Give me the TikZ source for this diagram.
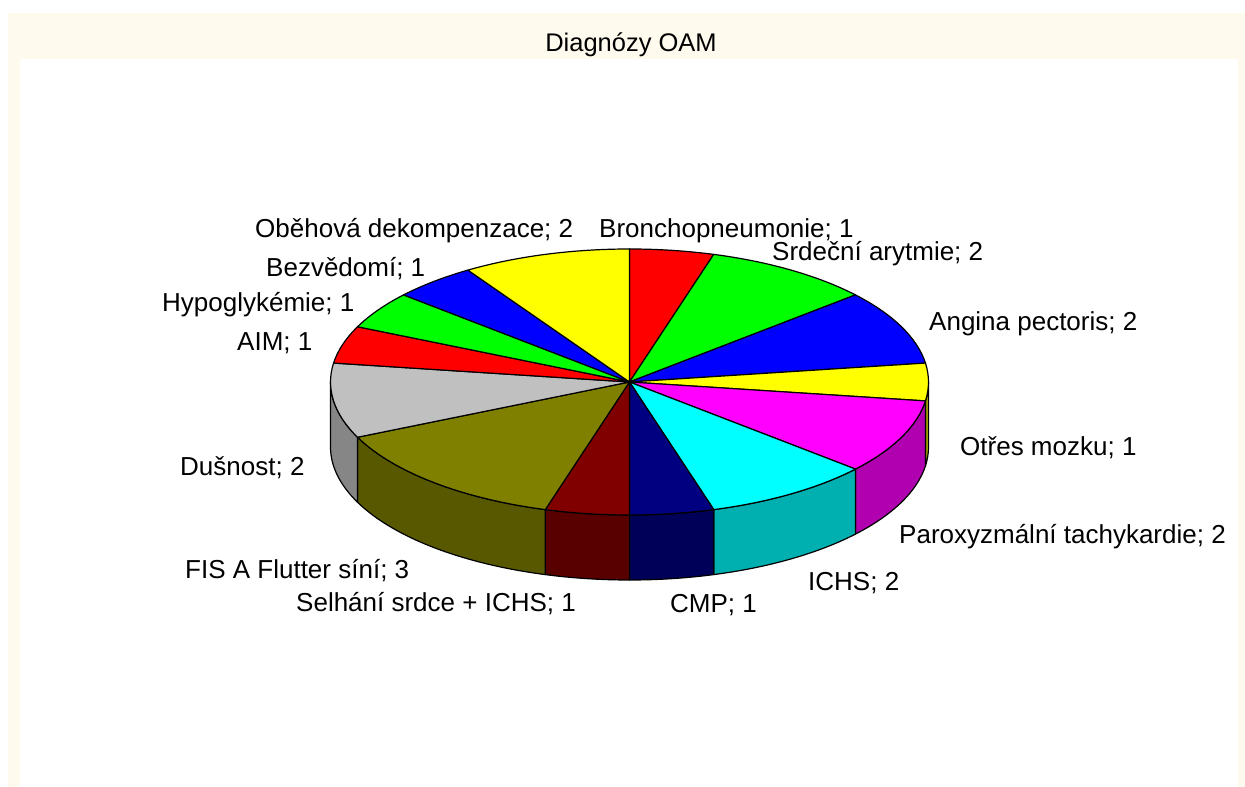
\documentclass[tikz,border=0pt]{standalone}
\usepackage{fontspec}
\setmainfont{Liberation Sans}
\usetikzlibrary{positioning}
\definecolor{Cream}{RGB}{255,250,238}
\definecolor{Red}{RGB}{255,0,0}
\definecolor{Green}{RGB}{0,255,0}
\definecolor{Blue}{RGB}{0,0,255}
\definecolor{Yellow}{RGB}{255,255,0}
\definecolor{Magenta}{RGB}{255,0,255}
\definecolor{Cyan}{RGB}{0,255,255}
\definecolor{Navy}{RGB}{0,0,128}
\definecolor{Maroon}{RGB}{128,0,0}
\definecolor{Olive}{RGB}{128,128,0}
\definecolor{Silver}{RGB}{192,192,192}
\definecolor{YellowD}{RGB}{176,176,0}
\definecolor{MagentaD}{RGB}{176,0,176}
\definecolor{CyanD}{RGB}{0,176,176}
\definecolor{NavyD}{RGB}{0,0,88}
\definecolor{MaroonD}{RGB}{88,0,0}
\definecolor{OliveD}{RGB}{88,88,0}
\definecolor{SilverD}{RGB}{134,134,134}

\begin{document}
\begin{tikzpicture}[x=1pt,y=1pt,
 lab/.style={anchor=base west,inner sep=0pt,font=\fontsize{26}{30}\selectfont},
 w/.style={draw=black,line width=1.2pt,line join=round}]
\useasboundingbox (0,0) rectangle (1245,787);
\fill[Cream] (8,0) rectangle (1245,774);
\fill[white] (20,0) rectangle (1238,728);
\node[anchor=base,inner sep=0pt,font=\fontsize{25.5}{30}\selectfont] (title) at (631,735) {Diagnózy OAM};
\begin{scope}[shift={(629.5,405)}]
% side of the pie
\foreach \a/\b/\c in {0/-8.182/YellowD,-8.182/-40.909/MagentaD,-40.909/-73.636/CyanD,
 -73.636/-90/NavyD,-90/-106.364/MaroonD,-106.364/-155.455/OliveD,-155.455/-180/SilverD}
 \filldraw[w,fill=\c] (\a:299 and 133) arc[start angle=\a,end angle=\b,x radius=299,y radius=133]
  -- ++(0,-65) arc[start angle=\b,end angle=\a,x radius=299,y radius=133] -- cycle;
% top slices
\foreach \a/\b/\c in {90/73.636/Red,73.636/40.909/Green,40.909/8.182/Blue,8.182/-8.182/Yellow,
 -8.182/-40.909/Magenta,-40.909/-73.636/Cyan,-73.636/-90/Navy,-90/-106.364/Maroon,
 -106.364/-155.455/Olive,-155.455/-188.182/Silver,-188.182/-204.545/Red,-204.545/-220.909/Green,
 -220.909/-237.273/Blue,-237.273/-270/Yellow}
 \filldraw[w,fill=\c] (0,0) -- (\a:299 and 133) arc[start angle=\a,end angle=\b,x radius=299,y radius=133] -- cycle;
\end{scope}
\node[lab] (obeh) at (255,549) {Oběhová dekompenzace; 2};
\node[lab] (bron) at (599,549) {Bronchopneumonie; 1};
\node[lab] (bezv) at (266,510) {Bezvědomí; 1};
\node[lab] (srdc) at (772,526) {Srdeční arytmie; 2};
\node[lab] (hypo) at (162,475) {Hypoglykémie; 1};
\node[lab] (angi) at (929,456) {Angina pectoris; 2};
\node[lab] (aim) at (237,436) {AIM; 1};
\node[lab] (otres) at (960,331) {Otřes mozku; 1};
\node[lab] (dusn) at (180,311) {Dušnost; 2};
\node[lab] (parox) at (899,243) {Paroxyzmální tachykardie; 2};
\node[lab] (fis) at (185,208) {FIS A Flutter síní; 3};
\node[lab] (ichs) at (808,196) {ICHS; 2};
\node[lab] (selh) at (296,175) {Selhání srdce + ICHS; 1};
\node[lab] (cmp) at (670,174) {CMP; 1};
\end{tikzpicture}
\end{document}
